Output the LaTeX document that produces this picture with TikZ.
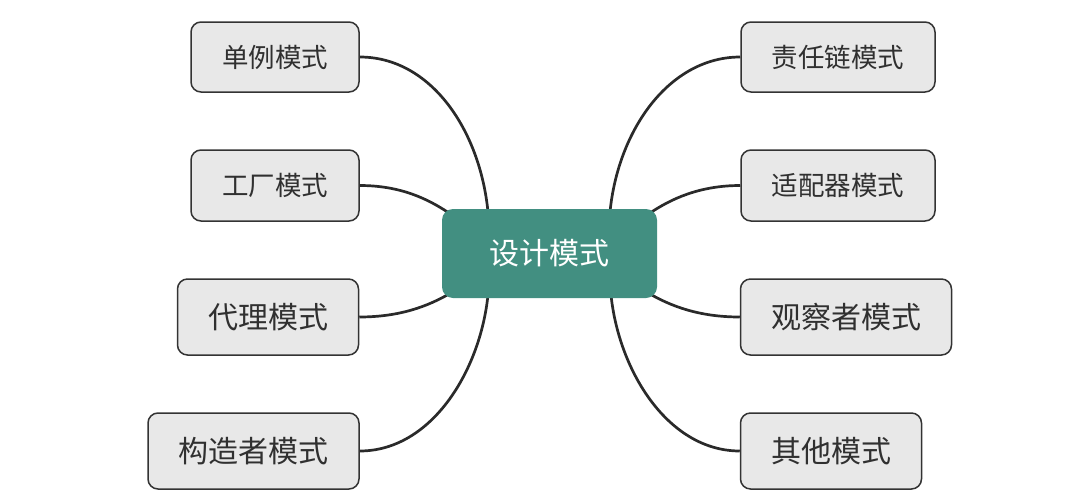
\documentclass[tikz,border=0pt]{standalone}
\usepackage{fontspec}
\newfontfamily\cjk{Noto Sans CJK SC}
\usetikzlibrary{calc}
\pgfdeclarelayer{bg}
\pgfsetlayers{bg,main}
\definecolor{boxfill}{HTML}{E8E8E8}
\definecolor{boxline}{HTML}{333333}
\definecolor{txt}{HTML}{303030}
\definecolor{teal}{HTML}{428F81}
\definecolor{edgec}{HTML}{2A2A2A}
\tikzset{
  leaf/.style={draw=boxline, line width=1.5pt, fill=boxfill, rounded corners=10pt,
    inner sep=0pt, text=txt, font=\cjk\fontsize{26.5}{30}\selectfont},
  leafbig/.style={leaf, font=\cjk\fontsize{30}{34}\selectfont},
  root/.style={fill=teal, rounded corners=11pt, inner sep=0pt, text=white,
    font=\cjk\fontsize{30}{34}\selectfont},
  link/.style={draw=edgec, line width=2.7pt}
}
\begin{document}
\begin{tikzpicture}[x=1pt,y=-1pt]
\useasboundingbox (0,0) rectangle (1080,501);
\node[root, minimum width=215pt, minimum height=89pt] (c) at (549.5,253.5) {设计模式};
\node[leaf, minimum width=168pt, minimum height=70pt] (l1) at (275,57) {单例模式};
\node[leaf, minimum width=168pt, minimum height=71pt] (l2) at (275,185.5) {工厂模式};
\node[leafbig, minimum width=181pt, minimum height=76pt] (l3) at (268,317) {代理模式};
\node[leafbig, minimum width=211pt, minimum height=76pt] (l4) at (253.5,451) {构造者模式};
\node[leaf, minimum width=194pt, minimum height=70pt] (r1) at (838,57) {责任链模式};
\node[leaf, minimum width=194pt, minimum height=71pt] (r2) at (838,185.5) {适配器模式};
\node[leafbig, minimum width=211pt, minimum height=76pt] (r3) at (846,317) {观察者模式};
\node[leafbig, minimum width=181pt, minimum height=76pt] (r4) at (831,451) {其他模式};
\coordinate (cl1) at (488,212);
\coordinate (cl2) at (449,213);
\coordinate (cl3) at (449,294);
\coordinate (cl4) at (488,295);
\coordinate (cr1) at (610,212);
\coordinate (cr2) at (650,213);
\coordinate (cr3) at (650,294);
\coordinate (cr4) at (611,295);
\begin{pgfonlayer}{bg}
\draw[link] (l1.east) .. controls +(71,0) and (480,130) .. (cl1);
\draw[link] (l2.east) .. controls +(41,0) and (428,199) .. (cl2);
\draw[link] (l3.east) .. controls +(41,0) and (428,306) .. (cl3);
\draw[link] (l4.east) .. controls +(71,0) and (480,372) .. (cl4);
\draw[link] (r1.west) .. controls +(-71,0) and (618,130) .. (cr1);
\draw[link] (r2.west) .. controls +(-41,0) and (671,199) .. (cr2);
\draw[link] (r3.west) .. controls +(-41,0) and (671,306) .. (cr3);
\draw[link] (r4.west) .. controls +(-71,0) and (619,372) .. (cr4);
\end{pgfonlayer}
\end{tikzpicture}
\end{document}
